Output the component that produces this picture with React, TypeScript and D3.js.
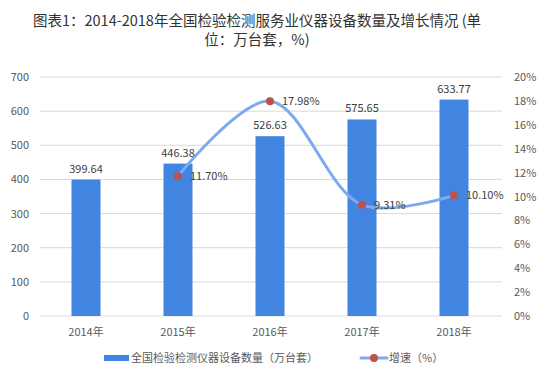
import React from "react";
import * as d3 from "d3";

const categories = ["2014年", "2015年", "2016年", "2017年", "2018年"];
const counts = [399.64, 446.38, 526.63, 575.65, 633.77];
const growth: (number | null)[] = [null, 11.7, 17.98, 9.31, 10.1];
const leftTicks = [0, 100, 200, 300, 400, 500, 600, 700];
const rightTicks = [0, 2, 4, 6, 8, 10, 12, 14, 16, 18, 20];
const titleLines = ["图表1：2014-2018年全国检验检测服务业仪器设备数量及增长情况 (单", "位：万台套，%)"];
const legendBar = "全国检验检测仪器设备数量（万台套）";
const legendLine = "增速（%）";

const W = 550, H = 377;
const FONT = "'Noto Sans CJK SC', 'Microsoft YaHei', sans-serif";

export default function App() {
  const x = d3.scaleBand<string>().domain(categories).range([40, 500]).paddingInner(0.685).paddingOuter(0.3425);
  const xc = (c: string) => (x(c) as number) + x.bandwidth() / 2;
  const yL = d3.scaleLinear().domain([0, 700]).range([316, 77]);
  const yR = d3.scaleLinear().domain([0, 20]).range([316, 77]);
  const pts = categories.map((c, i) => ({ c, v: growth[i] })).filter(d => d.v != null) as { c: string; v: number }[];
  const line = d3.line<{ c: string; v: number }>().x(d => xc(d.c)).y(d => yR(d.v)).curve(d3.curveCatmullRom.alpha(0.5));
  return (
    <svg width={W} height={H} style={{ position: "absolute", left: 0, top: 0, background: "#fff" }} fontFamily={FONT}>
      <rect width={W} height={H} fill="#fff" />
      {titleLines.map((t, i) => (
        <text key={i} x={257} y={26 + i * 19} textAnchor="middle" fontSize={14.5} fill="#333">{t}</text>
      ))}
      {leftTicks.map(t => (
        <g key={t}>
          <line x1={40} x2={502} y1={yL(t)} y2={yL(t)} stroke="#d9d9d9" strokeWidth={1} />
          <text x={29} y={yL(t) + 4} textAnchor="end" fontSize={11} fill="#595959">{t}</text>
        </g>
      ))}
      {rightTicks.map(t => (
        <text key={t} x={514} y={yR(t) + 4} textAnchor="start" fontSize={11} fill="#595959">{t}%</text>
      ))}
      {categories.map((c, i) => (
        <g key={c}>
          <rect x={x(c)} y={yL(counts[i])} width={x.bandwidth()} height={316 - yL(counts[i])} fill="#4285E1" />
          <text x={xc(c)} y={yL(counts[i]) - 7} textAnchor="middle" fontSize={11} fill="#404040">{counts[i].toFixed(2)}</text>
          <text x={xc(c)} y={336} textAnchor="middle" fontSize={11} fill="#595959">{c}</text>
        </g>
      ))}
      <path d={line(pts) as string} fill="none" stroke="#7DAAEE" strokeWidth={3} strokeLinecap="round" />
      {pts.map(d => (
        <g key={d.c}>
          <circle cx={xc(d.c)} cy={yR(d.v)} r={4} fill="#C0504D" />
          <text x={xc(d.c) + 12} y={yR(d.v) + 4} fontSize={11} fill="#404040">{d.v.toFixed(2)}%</text>
        </g>
      ))}
      <rect x={104} y={355} width={25} height={6} fill="#4285E1" />
      <text x={131} y={362} fontSize={11} fill="#595959">{legendBar}</text>
      <line x1={361} x2={387} y1={358} y2={358} stroke="#7DAAEE" strokeWidth={3} strokeLinecap="round" />
      <circle cx={374} cy={358} r={4} fill="#C0504D" />
      <text x={389} y={362} fontSize={11} fill="#595959">{legendLine}</text>
    </svg>
  );
}
